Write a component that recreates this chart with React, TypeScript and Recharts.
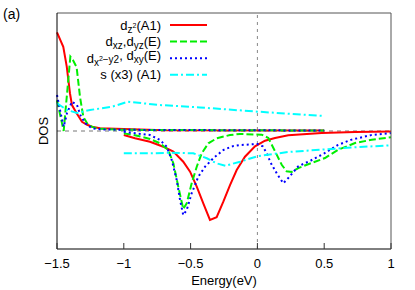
import React from "react";
import { LineChart, Line, XAxis, YAxis, ReferenceLine, Legend } from "recharts";

type Pt = [number, number];

// upper block: energy -1.5 .. 0.5
const dz2Up: Pt[] = [
  [-1.5, 0.836], [-1.453, 0.714], [-1.427, 0.545], [-1.403, 0.32], [-1.388, 0.22],
  [-1.353, 0.15], [-1.313, 0.078], [-1.278, 0.055], [-1.238, 0.036], [-1.178, 0.023],
  [-1.0, 0.018], [-0.7, 0.006], [0.5, 0.004],
];
const dxzUp: Pt[] = [
  [-1.5, 0.26], [-1.45, 0.0], [-1.4, 0.63], [-1.38, 0.6], [-1.353, 0.54],
  [-1.328, 0.29], [-1.303, 0.12], [-1.266, 0.05], [-1.2, 0.02], [-1.0, 0.01], [0.5, 0.004],
];
const dx2Up: Pt[] = [
  [-1.5, 0.305], [-1.475, 0.164], [-1.45, 0.036], [-1.425, 0.153], [-1.388, 0.248],
  [-1.35, 0.22], [-1.326, 0.136], [-1.288, 0.065], [-1.238, 0.023], [-1.163, 0.014],
  [-1.0, 0.01], [0.5, 0.004],
];
const sUp: Pt[] = [
  [-1.5, 0.235], [-1.425, 0.178], [-1.35, 0.153], [-1.253, 0.178], [-1.088, 0.206],
  [-0.969, 0.248], [-0.729, 0.22], [-0.43, 0.2], [0.0, 0.164], [0.5, 0.127],
];

// lower block: energy -1 .. 1
const dz2Down: Pt[] = [
  [-1.0, -0.034], [-0.916, -0.062], [-0.804, -0.091], [-0.704, -0.133], [-0.629, -0.175],
  [-0.555, -0.26], [-0.504, -0.345], [-0.454, -0.472], [-0.405, -0.613], [-0.355, -0.754],
  [-0.305, -0.731], [-0.255, -0.599], [-0.205, -0.458], [-0.155, -0.331], [-0.093, -0.218],
  [-0.018, -0.13], [0.057, -0.082], [0.132, -0.059], [0.231, -0.036], [0.481, -0.017],
  [0.731, -0.008], [1.0, -0.004],
];
const dxzDown: Pt[] = [
  [-1.0, -0.02], [-0.9, -0.04], [-0.804, -0.068], [-0.729, -0.104], [-0.667, -0.161],
  [-0.629, -0.274], [-0.592, -0.472], [-0.567, -0.599], [-0.555, -0.66], [-0.529, -0.613],
  [-0.492, -0.443], [-0.454, -0.303], [-0.417, -0.189], [-0.367, -0.104], [-0.305, -0.062],
  [-0.205, -0.034], [-0.13, -0.025], [-0.018, -0.03], [0.032, -0.031], [0.082, -0.059],
  [0.132, -0.172], [0.182, -0.286], [0.219, -0.342], [0.257, -0.347], [0.306, -0.314],
  [0.406, -0.271], [0.506, -0.229], [0.606, -0.158], [0.731, -0.102], [0.856, -0.074],
  [1.0, -0.053],
];
const dx2Down: Pt[] = [
  [-1.0, -0.006], [-0.916, -0.019], [-0.804, -0.034], [-0.729, -0.076], [-0.679, -0.133],
  [-0.641, -0.246], [-0.604, -0.415], [-0.579, -0.585], [-0.555, -0.712], [-0.529, -0.669],
  [-0.492, -0.528], [-0.442, -0.387], [-0.392, -0.303], [-0.33, -0.231], [-0.255, -0.161],
  [-0.18, -0.127], [-0.13, -0.119], [0.0, -0.11], [0.04, -0.13], [0.07, -0.19],
  [0.1, -0.27], [0.15, -0.37], [0.194, -0.443], [0.231, -0.398], [0.306, -0.299],
  [0.4, -0.25], [0.5, -0.19], [0.6, -0.12], [0.7, -0.075], [0.85, -0.035], [1.0, -0.017],
];
const sDown: Pt[] = [
  [-1.0, -0.189], [-0.804, -0.189], [-0.654, -0.184], [-0.48, -0.189], [-0.379, -0.231],
  [-0.305, -0.274], [-0.24, -0.295], [-0.13, -0.26], [0.0, -0.214], [0.231, -0.178],
  [0.481, -0.158], [0.731, -0.138], [1.0, -0.121],
];

const xTicks = [-1.5, -1, -0.5, 0, 0.5, 1];

const FONT = "'Liberation Sans', Arial, sans-serif";

function join(up: Pt[], down: Pt[]) {
  return [
    ...up.map(([x, y]) => ({ x, y })),
    { x: up[up.length - 1][0], y: null },
    ...down.map(([x, y]) => ({ x, y })),
  ];
}

const SERIES = [
  {
    key: "dz2", color: "#ff0000", dash: undefined, data: join(dz2Up, dz2Down),
    label: (
      <>
        d<tspan dy={3} fontSize={10}>z</tspan>
        <tspan dy={-5} fontSize={7}>2</tspan>
        <tspan dy={2}>(A1)</tspan>
      </>
    ),
  },
  {
    key: "dxz", color: "#00ee00", dash: "7 3", data: join(dxzUp, dxzDown),
    label: (
      <>
        d<tspan dy={3} fontSize={10}>xz</tspan>
        <tspan dy={-3}>,d</tspan>
        <tspan dy={3} fontSize={10}>yz</tspan>
        <tspan dy={-3}>(E)</tspan>
      </>
    ),
  },
  {
    key: "dx2", color: "#0000ff", dash: "2 3", data: join(dx2Up, dx2Down),
    label: (
      <>
        d<tspan dy={3} fontSize={10}>x</tspan>
        <tspan dy={-5} fontSize={7}>2</tspan>
        <tspan dy={2} fontSize={10}>−y2</tspan>
        <tspan dy={-3}>, d</tspan>
        <tspan dy={3} fontSize={10}>xy</tspan>
        <tspan dy={-3}>(E)</tspan>
      </>
    ),
  },
  {
    key: "s", color: "#00ffff", dash: "8 3 2 3", data: join(sUp, sDown),
    label: <>s (x3) (A1)</>,
  },
];

const fmt = (v: number) => (v < 0 ? "\u2212" + Math.abs(v) : String(v));

// bottom ticks: inward mark plus label (axis sits tickMargin above y)
const BOTTOM_MARGIN = 9;
function BottomTick(props: any) {
  const { x, y, payload } = props;
  const axisY = y - BOTTOM_MARGIN;
  return (
    <g>
      <line x1={x} x2={x} y1={axisY} y2={axisY - 6} stroke="#333" />
      <text x={x} y={y + 10} textAnchor="middle" fontSize={13} fontFamily={FONT} fill="#000">
        {fmt(payload.value)}
      </text>
    </g>
  );
}

function TopTick(props: any) {
  const { x, y } = props;
  return <line x1={x} x2={x} y1={y} y2={y + 5} stroke="#666" />;
}

function LegendBox() {
  return (
    <svg width={215} height={85} style={{ display: "block" }}>
      {SERIES.map((s, i) => {
        const cy = 25 + i * 16.6;
        return (
          <g key={s.key}>
            <text x={161} y={cy + 4.5} textAnchor="end" fontSize={13} fontFamily={FONT} fill="#000">
              {s.label}
            </text>
            <line x1={170} x2={207} y1={cy} y2={cy} stroke={s.color} strokeWidth={2} strokeDasharray={s.dash} />
          </g>
        );
      })}
    </svg>
  );
}

export default function App() {
  return (
    <div style={{ position: "absolute", left: 0, top: 0, fontFamily: FONT, background: "#fff" }}>
      <svg width={30} height={25} style={{ position: "absolute", left: 0, top: 0 }}>
        <text x={3} y={19} fontSize={14} fontFamily={FONT} fill="#000">(a)</text>
      </svg>
      <LineChart width={415} height={290} margin={{ top: 12, right: 23, bottom: 1, left: 29 }}>
        <XAxis
          dataKey="x"
          type="number"
          domain={[-1.5, 1]}
          ticks={xTicks}
          interval={0}
          tickLine={false}
          tickSize={0}
          tickMargin={BOTTOM_MARGIN}
          height={40}
          stroke="#000"
          tick={<BottomTick />}
          label={{ value: "Energy(eV)", position: "insideBottom", offset: 4, fill: "#000", fontSize: 13 }}
        />
        <XAxis
          xAxisId="top"
          orientation="top"
          type="number"
          domain={[-1.5, 1]}
          ticks={xTicks}
          interval={0}
          tickLine={false}
          tickSize={0}
          tickMargin={0}
          tick={<TopTick />}
          height={1}
          stroke="#555"
        />
        <YAxis
          type="number"
          domain={[-1, 1]}
          tick={false}
          tickLine={false}
          width={28}
          stroke="#000"
          label={{ value: "DOS", angle: -90, position: "center", fill: "#000", fontSize: 13 }}
        />
        <YAxis
          yAxisId="right"
          orientation="right"
          type="number"
          domain={[-1, 1]}
          tick={false}
          tickLine={false}
          width={1}
          stroke="#555"
        />
        <ReferenceLine y={0} stroke="#777" strokeDasharray="4 4" />
        <ReferenceLine x={0} stroke="#888" strokeDasharray="3 4" />
        {SERIES.map((s) => (
          <Line
            key={s.key}
            data={s.data}
            dataKey="y"
            type="linear"
            stroke={s.color}
            strokeWidth={2}
            strokeDasharray={s.dash}
            dot={false}
            activeDot={false}
            isAnimationActive={false}
          />
        ))}
        <Legend
          layout="vertical"
          align="center"
          verticalAlign="middle"
          content={<LegendBox />}
          wrapperStyle={{ left: 0, top: 0, width: 215, height: 85 }}
        />
      </LineChart>
    </div>
  );
}
